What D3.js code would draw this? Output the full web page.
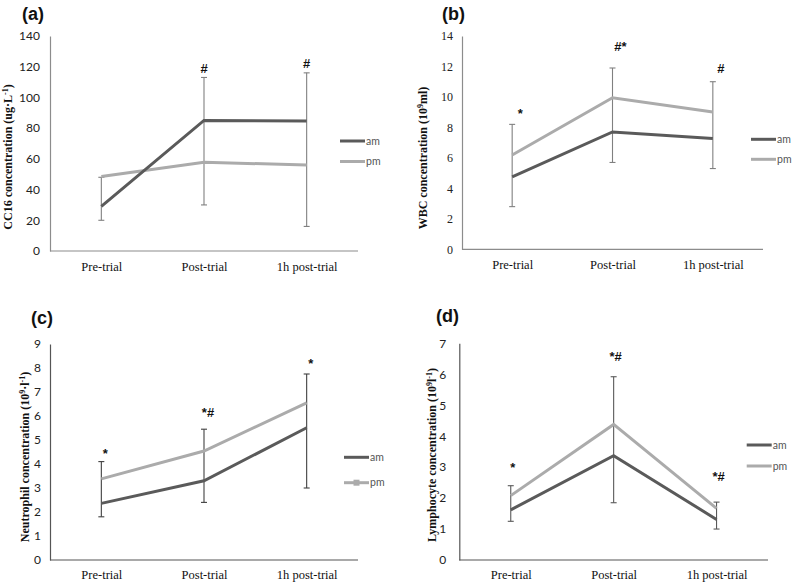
<!DOCTYPE html>
<html><head><meta charset="utf-8">
<script src="https://cdn.jsdelivr.net/npm/d3@7"></script>
<style>body{margin:0;background:#fff}svg{display:block}</style>
</head><body>
<svg id="c" width="793" height="582"></svg>
<script>
// ---- data ----
const categories = ["Pre-trial", "Post-trial", "1h post-trial"];
const seriesNames = ["am", "pm"];

const cc16Am = [29, 85, 84.6];
const cc16Pm = [48.5, 57.8, 56];
const cc16ErrLow = [20, 30, 16];
const cc16ErrHigh = [48, 113, 116];
const cc16Ticks = [0, 20, 40, 60, 80, 100, 120, 140];
const cc16Marks = ["", "#", "#"];
const cc16MarkY = [null, 119, 122];

const wbcAm = [4.76, 7.7, 7.28];
const wbcPm = [6.19, 9.95, 9.01];
const wbcErrLow = [2.8, 5.7, 5.3];
const wbcErrHigh = [8.2, 11.9, 11.0];
const wbcTicks = [0, 2, 4, 6, 8, 10, 12, 14];
const wbcMarks = ["*", "#*", "#"];
const wbcMarkY = [8.94, 13.3, 11.9];

const neuAm = [2.36, 3.3, 5.51];
const neuPm = [3.38, 4.54, 6.55];
const neuErrLow = [1.8, 2.4, 3.0];
const neuErrHigh = [4.1, 5.45, 7.75];
const neuTicks = [0, 1, 2, 3, 4, 5, 6, 7, 8, 9];
const neuMarks = ["*", "*#", "*"];
const neuMarkY = [4.46, 6.14, 8.17];

const lymAm = [1.62, 3.37, 1.31];
const lymPm = [2.08, 4.38, 1.67];
const lymErrLow = [1.25, 1.85, 1.0];
const lymErrHigh = [2.4, 5.92, 1.87];
const lymTicks = [0, 1, 2, 3, 4, 5, 6, 7];
const lymMarks = ["*", "*#", "*#"];
const lymMarkY = [3.0, 6.57, 2.69];

// ---- panels ----
const panels = [
  {label:"(a)", lx:22, ly:20, x0:50, x1:358, yTop:36, yBot:251, max:140, ticks:cc16Ticks,
   am:cc16Am, pm:cc16Pm, lo:cc16ErrLow, hi:cc16ErrHigh, marks:cc16Marks, markY:cc16MarkY, markDx:0,
   tickFont:"Lato, 'Open Sans', sans-serif", tickPad:10, axisCol:"#8c8c8c", errCol:"#808080",
   title:[["CC16 concentration (ug·L"], ["-1","sup"], [")"]], tx:12, ty:157,
   legX:340, legY:141, legGap:20.5, pmMarker:false, catY:271},
  {label:"(b)", lx:442, ly:20, x0:462, x1:763, yTop:36, yBot:249.3, max:14, ticks:wbcTicks,
   am:wbcAm, pm:wbcPm, lo:wbcErrLow, hi:wbcErrHigh, marks:wbcMarks, markY:wbcMarkY, markDx:8,
   tickFont:"'Liberation Serif', 'Times New Roman', serif", tickPad:9, axisCol:"#8c8c8c", errCol:"#808080",
   title:[["WBC concentration (10"], ["9","sup"], ["ml)"]], tx:427, ty:158,
   legX:751, legY:139.3, legGap:20, pmMarker:false, catY:269},
  {label:"(c)", lx:31, ly:324, x0:50, x1:358, yTop:344, yBot:560, max:9, ticks:neuTicks,
   am:neuAm, pm:neuPm, lo:neuErrLow, hi:neuErrHigh, marks:neuMarks, markY:neuMarkY, markDx:4,
   tickFont:"Lato, 'Open Sans', sans-serif", tickPad:9, axisCol:"#555555", errCol:"#404040",
   title:[["Neutrophil concentration (10"], ["9","sup"], ["·l"], ["-1","sup"], [")"]], tx:29, ty:457,
   legX:344, legY:457.3, legGap:25.4, pmMarker:true, catY:579},
  {label:"(d)", lx:436, ly:322, x0:459.3, x1:768, yTop:343.3, yBot:560, max:7, ticks:lymTicks,
   am:lymAm, pm:lymPm, lo:lymErrLow, hi:lymErrHigh, marks:lymMarks, markY:lymMarkY, markDx:2,
   tickFont:"Lato, 'Open Sans', sans-serif", tickPad:13, axisCol:"#555555", errCol:"#595959",
   title:[["Lymphocyte concentration (10"], ["9","sup"], ["l"], ["-1","sup"], [")"]], tx:436, ty:455,
   legX:746.7, legY:445, legGap:21, pmMarker:false, catY:579}
];

const amCol = "#5a5a5a", pmCol = "#ababab";
const svg = d3.select("#c");

panels.forEach(p => {
  const g = svg.append("g");
  const x = d3.scalePoint().domain(categories).range([p.x0, p.x1]).padding(0.5);
  const y = d3.scaleLinear().domain([0, p.max]).range([p.yBot, p.yTop]);

  // panel label
  g.append("text").attr("x", p.lx).attr("y", p.ly)
    .attr("font-family", "'Liberation Sans', Arial, sans-serif").attr("font-weight", "bold")
    .attr("font-size", 18).attr("fill", "#111").text(p.label);

  // y axis (no tick marks)
  const ya = d3.axisLeft(y).tickValues(p.ticks).tickFormat(d3.format("d")).tickSize(0).tickPadding(p.tickPad);
  const yg = g.append("g").attr("transform", `translate(${p.x0},0)`).call(ya);
  yg.select(".domain").attr("stroke", p.axisCol).attr("stroke-width", 1.2);
  yg.selectAll("text").attr("font-family", p.tickFont).attr("font-size", 12).attr("fill", "#222");

  // x axis
  const xa = d3.axisBottom(x).tickSize(0).tickPadding(0);
  const xg = g.append("g").attr("transform", `translate(0,${p.yBot})`).call(xa);
  xg.select(".domain").attr("d", `M${p.x0},0H${p.x1}`).attr("stroke", p.axisCol).attr("stroke-width", 1.2);
  xg.selectAll("text").attr("y", p.catY - p.yBot).attr("dy", 0)
    .attr("font-family", "'Liberation Serif', 'Times New Roman', serif").attr("font-size", 12.5).attr("fill", "#111");

  // y title
  const t = g.append("text").attr("transform", `translate(${p.tx},${p.ty}) rotate(-90)`)
    .attr("text-anchor", "middle").attr("font-family", "'Liberation Serif', 'Times New Roman', serif")
    .attr("font-weight", "bold").attr("font-size", 12).attr("fill", "#111");
  p.title.forEach(([s, k], idx) => {
    const ts = t.append("tspan").text(s);
    if (k === "sup") ts.attr("font-size", 8).attr("dy", -4.5);
    else if (idx > 0) ts.attr("dy", 4.5);
  });

  // error bars
  const eb = g.append("g").attr("stroke", p.errCol).attr("stroke-width", 1.1);
  categories.forEach((c, i) => {
    const cx = x(c);
    eb.append("line").attr("x1", cx).attr("x2", cx).attr("y1", y(p.lo[i])).attr("y2", y(p.hi[i]));
    [p.lo[i], p.hi[i]].forEach(v => eb.append("line").attr("x1", cx - 3).attr("x2", cx + 3).attr("y1", y(v)).attr("y2", y(v)));
  });

  // lines
  const line = d3.line().x((d, i) => x(categories[i])).y(d => y(d));
  g.append("path").datum(p.pm).attr("d", line).attr("fill", "none").attr("stroke", pmCol).attr("stroke-width", 3);
  g.append("path").datum(p.am).attr("d", line).attr("fill", "none").attr("stroke", amCol).attr("stroke-width", 3);

  // significance marks
  categories.forEach((c, i) => {
    if (!p.marks[i]) return;
    g.append("text").attr("x", x(c) + p.markDx).attr("y", y(p.markY[i])).attr("dy", "0.35em")
      .attr("text-anchor", "middle").attr("font-family", "'Liberation Sans', Arial, sans-serif")
      .attr("font-weight", "bold").attr("font-size", 13).attr("fill", "#111").text(p.marks[i]);
  });

  // legend
  seriesNames.forEach((n, k) => {
    const ly = p.legY + k * p.legGap;
    const col = k === 0 ? amCol : pmCol;
    g.append("line").attr("x1", p.legX).attr("x2", p.legX + 25).attr("y1", ly).attr("y2", ly)
      .attr("stroke", col).attr("stroke-width", 3);
    if (k === 1 && p.pmMarker)
      g.append("rect").attr("x", p.legX + 9.5).attr("y", ly - 3).attr("width", 6).attr("height", 6).attr("fill", col);
    g.append("text").attr("x", p.legX + 26).attr("y", ly).attr("dy", "0.35em")
      .attr("font-family", "Lato, 'Open Sans', sans-serif").attr("font-size", 10.5).attr("fill", "#555").text(n);
  });
});
</script>
</body></html>
